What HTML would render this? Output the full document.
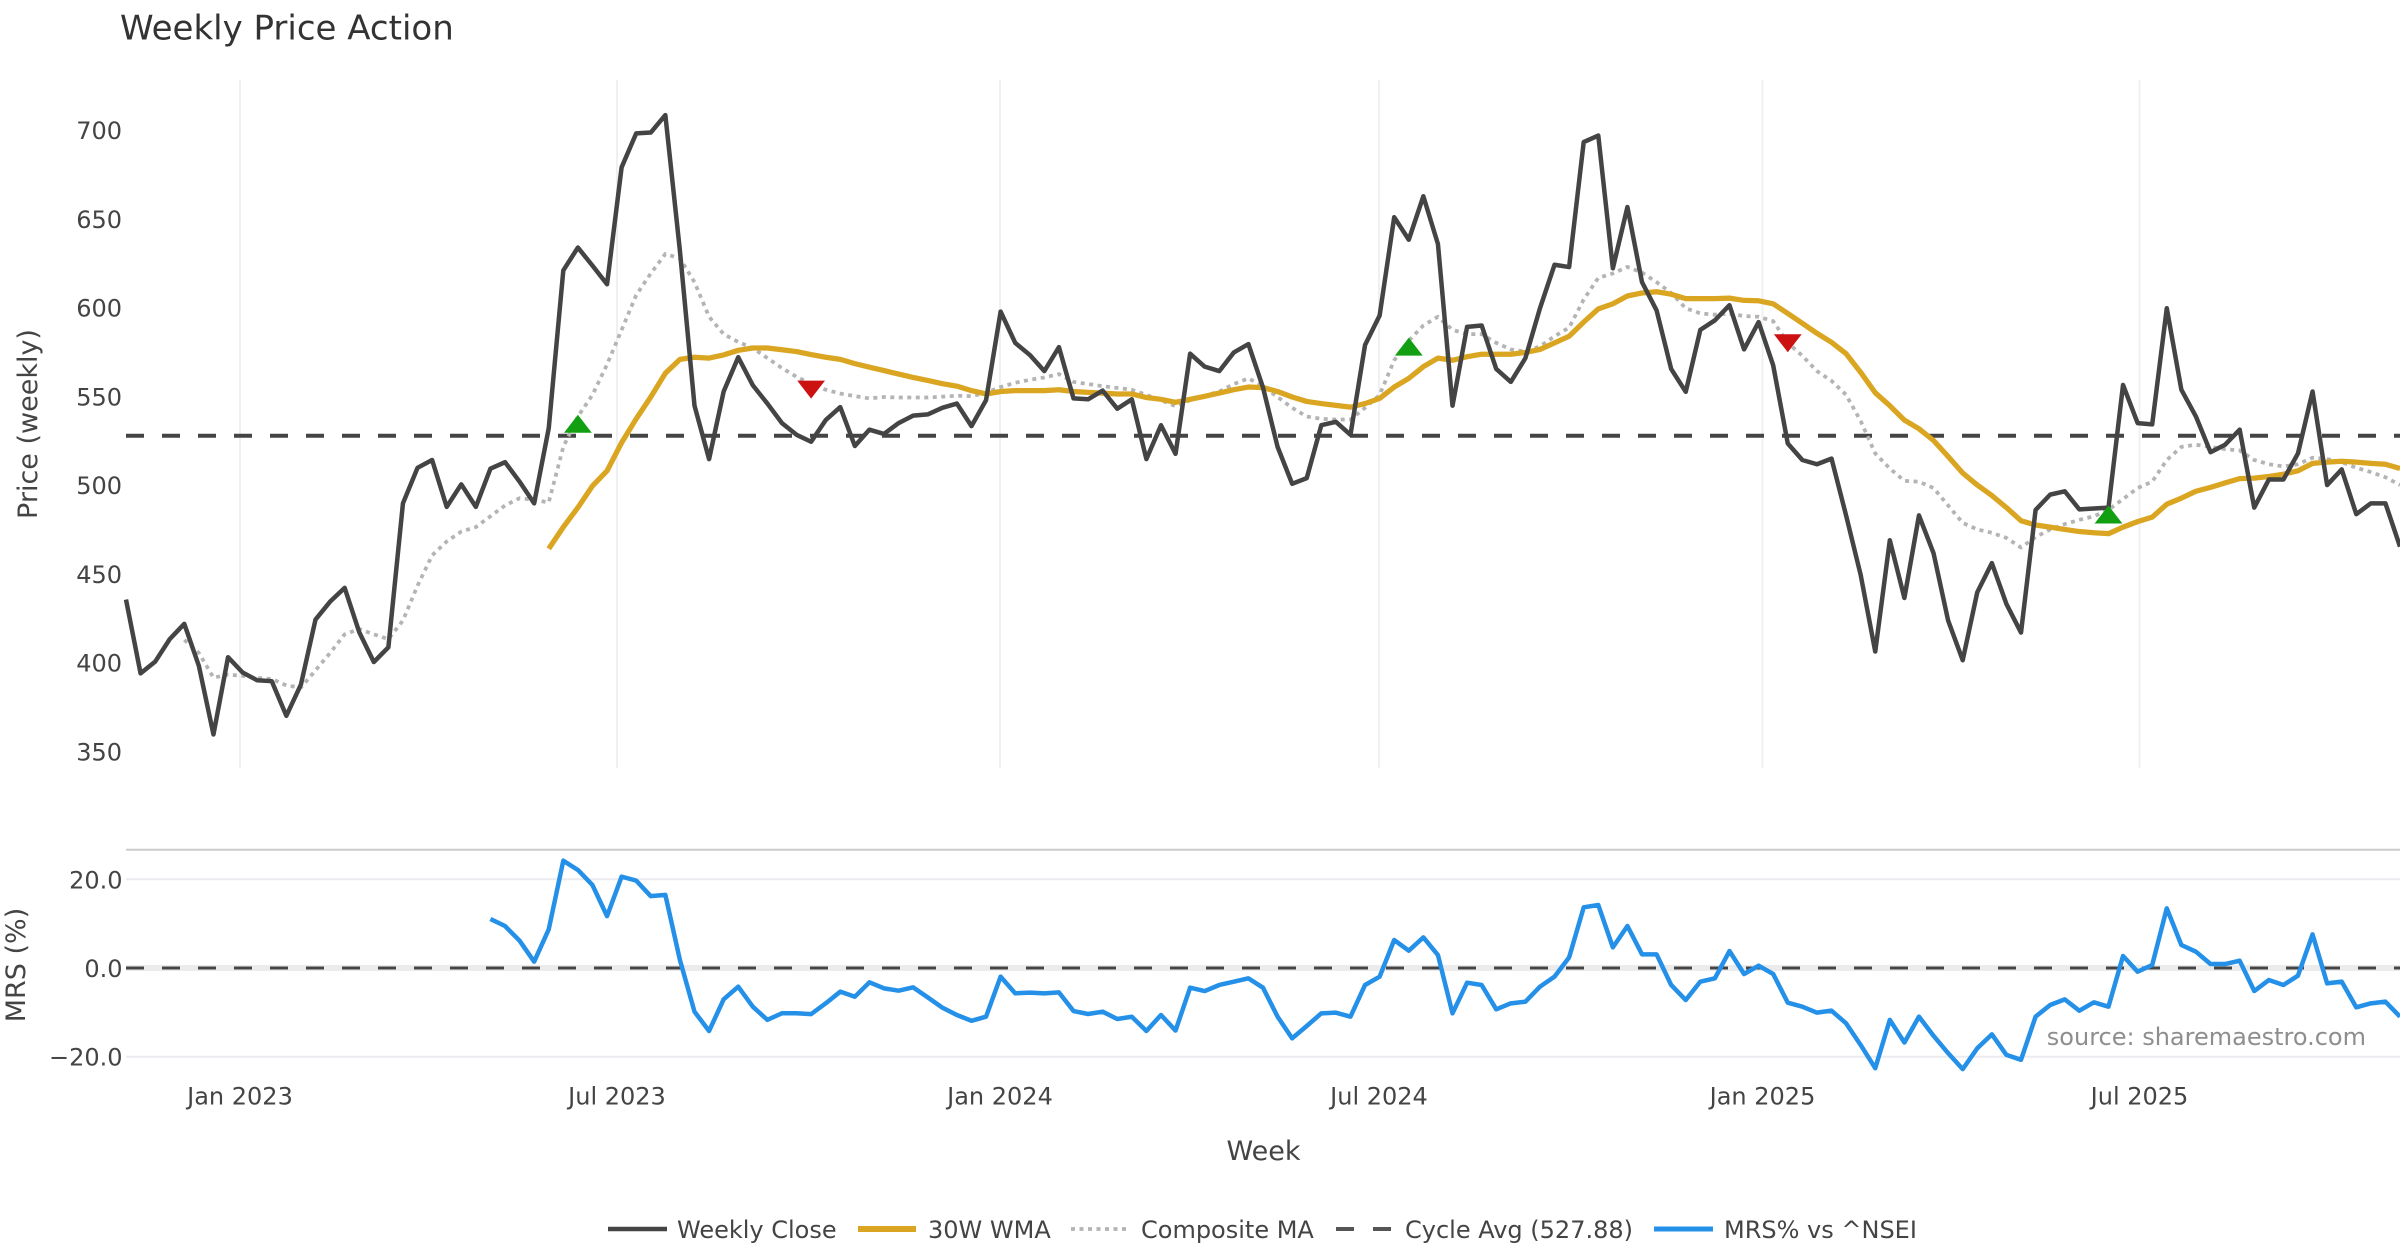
<!DOCTYPE html>
<html>
<head>
<meta charset="utf-8">
<style>
html,body{margin:0;padding:0;background:#fff;}
svg{display:block;}
text{font-family:"DejaVu Sans","Liberation Sans",sans-serif;}
</style>
</head>
<body>
<svg width="2400" height="1260" viewBox="0 0 2400 1260" xmlns="http://www.w3.org/2000/svg">
<rect x="0" y="0" width="2400" height="1260" fill="#ffffff"/>

<!-- Title -->
<text x="120" y="39.5" font-size="34" fill="#333">Weekly Price Action</text>

<!-- Top panel vertical gridlines -->
<g stroke="#eef0f3" stroke-width="2">
<line x1="240" y1="80" x2="240" y2="768"/>
<line x1="617" y1="80" x2="617" y2="768"/>
<line x1="1000" y1="80" x2="1000" y2="768"/>
<line x1="1379" y1="80" x2="1379" y2="768"/>
<line x1="1762.5" y1="80" x2="1762.5" y2="768"/>
<line x1="2139.5" y1="80" x2="2139.5" y2="768"/>
</g>

<!-- Top y tick labels -->
<g font-size="24" fill="#444" text-anchor="end">
<text x="122" y="139">700</text>
<text x="122" y="227.8">650</text>
<text x="122" y="316.5">600</text>
<text x="122" y="405.3">550</text>
<text x="122" y="494">500</text>
<text x="122" y="582.8">450</text>
<text x="122" y="671.5">400</text>
<text x="122" y="760.3">350</text>
</g>
<text transform="translate(37,424) rotate(-90)" text-anchor="middle" font-size="27" fill="#444">Price (weekly)</text>

<!-- Cycle avg dashed -->
<line x1="126" y1="435.7" x2="2400" y2="435.7" stroke="#444" stroke-width="4" stroke-dasharray="18,18"/>

<!-- Composite MA (dotted) -->
<polyline fill="none" stroke="#b4b4b4" stroke-width="3.75" stroke-dasharray="4,4.5" vector-effect="non-scaling-stroke" stroke-linejoin="round"
transform="matrix(14.577 0 0 -1.7751 126 1372.77)"
points="4,412.9 5,405.5 6,391.6 7,393.3 8,392.6 9,391.4 10,390.9 11,387.2 12,386 13,395.7 14,405.5 15,416 16,419 17,416 18,413.3 19,423.8 20,443.4 21,460.5 22,468.3 23,473.9 24,476.4 25,482.5 26,488.6 27,492.7 28,491.8 29,490.3 30,521.6 31,538.7 32,550.9 33,568 34,587.5 35,607.1 36,619.3 37,630.3 38,627.8 39,614.4 40,594.9 41,585.1 42,580.7 43,577.3 44,571.6 45,566 46,561.1 47,557 48,553.8 49,551.6 50,550.2 51,548.9 52,549.7 53,549.4 54,549.4 55,549.4 56,549.9 57,550.4 58,550.2 59,552.1 60,555.3 61,557.7 62,559.4 63,560.7 64,562.6 65,558.2 66,557 67,555.8 68,554.8 69,553.8 70,550.9 71,547.9 72,544.5 73,547.9 74,550.4 75,552.8 76,557 77,560.2 78,555.8 79,549.7 80,543.6 81,538.7 82,537.4 83,537 84,537 85,543.6 86,550.9 87,570.4 88,581.4 89,590 90,594.9 91,587.5 92,585.1 93,585.1 94,580.2 95,576.5 96,575.3 97,578.2 98,583.9 99,588.8 100,604.6 101,616.8 102,619.3 103,623 104,619.8 105,614.4 106,608.3 107,599.7 108,596.8 109,596.1 110,596.6 111,595.3 112,594.9 113,592.4 114,580.2 115,572.9 116,564.3 117,558.8 118,550.9 119,536.2 120,517.9 121,509.4 122,502.5 123,502 124,498.4 125,488.6 126,478.8 127,475.1 128,473.2 129,470.3 130,464.9 131,470.8 132,475.1 133,478.1 134,480.5 135,482.5 136,486.1 137,492.2 138,498.4 139,502 140,514.2 141,521.6 142,522.8 143,521.6 144,520.3 145,519.6 146,514.2 147,511.8 148,510.6 149,511.8 150,515.5 151,514.7 152,513 153,509.8 154,507.4 155,504.5 156,500.1"/>

<!-- 30W WMA -->
<polyline fill="none" stroke="#daa520" stroke-width="5.25" vector-effect="non-scaling-stroke" stroke-linejoin="round"
transform="matrix(14.577 0 0 -1.7751 126 1372.77)"
points="29,464.2 30,476.4 31,487.4 32,499.6 33,508.1 34,524 35,537.4 36,549.7 37,563.1 38,570.9 39,572.1 40,571.6 41,573.4 42,576 43,577.3 44,577.3 45,576.3 46,575.3 47,573.6 48,572.1 49,570.9 50,568.5 51,566.5 52,564.6 53,562.6 54,560.7 55,559 56,557.2 57,555.8 58,553.3 59,551.4 60,552.8 61,553.3 62,553.3 63,553.3 64,553.8 65,552.8 66,552.3 67,551.9 68,551.4 69,551.4 70,549.4 71,548.4 72,546.7 73,548.4 74,550.1 75,551.9 76,553.8 77,555.3 78,555 79,552.8 80,549.7 81,547.2 82,546 83,545 84,544 85,546 86,548.9 87,555.3 88,560.2 89,566.8 90,571.6 91,570.4 92,572.4 93,573.8 94,573.8 95,573.8 96,574.8 97,576.5 98,580.2 99,583.9 100,591.9 101,599.3 102,602.2 103,606.6 104,608.3 105,609 106,607.6 107,605.1 108,605.1 109,605.1 110,605.4 111,604.1 112,603.9 113,602.2 114,596.8 115,591.2 116,585.6 117,580.5 118,574.1 119,563.6 120,552.1 121,544.8 122,536.7 123,531.8 124,525.2 125,516.2 126,506.9 127,500.1 128,494.2 129,487.4 130,480 131,477.6 132,476.4 133,475.1 134,473.9 135,473.2 136,472.7 137,476.4 138,479.5 139,482 140,489.3 141,492.7 142,496.6 143,498.8 144,501.3 145,503.7 146,504 147,504.9 148,506.2 149,508.1 150,512.3 151,513 152,513.5 153,513 154,512.3 155,511.8 156,509.4"/>

<!-- Weekly Close -->
<polyline fill="none" stroke="#444" stroke-width="4.5" vector-effect="non-scaling-stroke" stroke-linejoin="round"
transform="matrix(14.577 0 0 -1.7751 126 1372.77)"
points="0,435.6 1,394 2,400.6 3,413.3 4,421.9 5,398.2 6,359.6 7,403.1 8,394.5 9,390.1 10,389.6 11,370.1 12,387.7 13,424.3 14,434.4 15,442.2 16,417.2 17,400.4 18,408.7 19,489.8 20,509.8 21,514.2 22,487.8 23,500.5 24,487.8 25,509.3 26,513 27,502 28,489.8 29,532.1 30,621 31,633.9 32,623.7 33,613.2 34,679.1 35,698.2 36,698.7 37,708.5 38,632 39,544.8 40,514.7 41,552.8 42,572.1 43,556.3 44,546 45,535 46,528.4 47,524.5 48,536.7 49,544 50,522.1 51,531.3 52,528.9 53,535 54,539.2 55,539.9 56,543.6 57,546 58,533.3 59,547.9 60,597.8 61,580.2 62,573.4 63,564.3 64,577.8 65,548.9 66,548.4 67,553.3 68,543.1 69,548.4 70,514.7 71,533.8 72,517.7 73,574.1 74,566.8 75,564.3 76,574.8 77,579.5 78,555 79,521.6 80,500.8 81,504 82,533.8 83,535.7 84,528.4 85,579 86,595.6 87,651 88,638.3 89,662.8 90,635.9 91,544.8 92,589.2 93,590 94,565.5 95,558.2 96,571.6 97,599.7 98,624.2 99,622.9 100,693.3 101,697 102,622.2 103,656.7 104,614.4 105,598.5 106,565.5 107,552.6 108,587.5 109,592.9 110,601.4 111,576.5 112,591.9 113,567.5 114,523.5 115,514.2 116,511.8 117,515 118,483 119,449.5 120,406.3 121,469 122,436.5 123,483 124,461.7 125,423.8 126,401.4 127,439.7 128,456.1 129,433.1 130,417 131,486.1 132,494.7 133,496.6 134,486.4 135,486.9 136,487.4 137,556.5 138,535 139,534.3 140,599.7 141,553.8 142,538.7 143,518.6 144,522.8 145,531.3 146,487.4 147,503.2 148,503.2 149,517.9 150,552.8 151,500.1 152,508.9 153,483.7 154,489.8 155,489.8 156,465.4"/>

<!-- Signal markers -->
<g fill="#12a012">
<polygon points="564,432.8 591.8,432.8 577.9,414.8"/>
<polygon points="1394.9,355.6 1422.7,355.6 1408.8,337.6"/>
<polygon points="2094.6,523.5 2122.4,523.5 2108.5,505.5"/>
</g>
<g fill="#cc1111">
<polygon points="797.2,380.6 825,380.6 811.1,398.6"/>
<polygon points="1773.9,334.3 1801.7,334.3 1787.8,352.3"/>
</g>

<!-- Lower panel -->
<line x1="126" y1="849.7" x2="2400" y2="849.7" stroke="#cccccc" stroke-width="2"/>
<g stroke="#ececf0" stroke-width="2">
<line x1="126" y1="879.3" x2="2400" y2="879.3"/>
<line x1="126" y1="1056.7" x2="2400" y2="1056.7"/>
</g>
<line x1="126" y1="968" x2="2400" y2="968" stroke="#ebebeb" stroke-width="6"/>
<line x1="126" y1="968" x2="2400" y2="968" stroke="#444" stroke-width="3" stroke-dasharray="18,18"/>

<g font-size="24" fill="#444" text-anchor="end">
<text x="122.5" y="888.3">20.0</text>
<text x="122.5" y="977">0.0</text>
<text x="122.5" y="1065.7">−20.0</text>
</g>
<text transform="translate(25,965) rotate(-90)" text-anchor="middle" font-size="27" fill="#444">MRS (%)</text>

<!-- MRS line -->
<polyline fill="none" stroke="#2490e8" stroke-width="4.5" vector-effect="non-scaling-stroke" stroke-linejoin="round"
transform="matrix(14.577 0 0 -4.435 126 968)"
points="25,11.05 26,9.47 27,6.16 28,1.43 29,8.72 30,24.2 31,22.1 32,18.7 33,11.7 34,20.6 35,19.7 36,16.2 37,16.5 38,1.8 39,-9.85 40,-14.2 41,-7.07 42,-4.21 43,-8.72 44,-11.7 45,-10.2 46,-10.2 47,-10.4 48,-7.97 49,-5.34 50,-6.47 51,-3.23 52,-4.59 53,-5.11 54,-4.36 55,-6.62 56,-8.94 57,-10.6 58,-11.9 59,-10.97 60,-1.95 61,-5.71 62,-5.56 63,-5.71 64,-5.49 65,-9.7 66,-10.37 67,-9.85 68,-11.5 69,-11 70,-14.2 71,-10.6 72,-14.1 73,-4.44 74,-5.2 75,-3.83 76,-3.08 77,-2.33 78,-4.44 79,-10.97 80,-15.86 81,-13.08 82,-10.22 83,-10.07 84,-10.97 85,-3.83 86,-1.95 87,6.31 88,3.91 89,6.91 90,2.93 91,-10.22 92,-3.31 93,-3.83 94,-9.32 95,-7.97 96,-7.59 97,-4.21 98,-1.95 99,2.4 100,13.68 101,14.2 102,4.66 103,9.47 104,3.08 105,3.08 106,-3.83 107,-7.22 108,-3.08 109,-2.33 110,3.83 111,-1.35 112,0.53 113,-1.35 114,-7.82 115,-8.72 116,-10.07 117,-9.62 118,-12.48 119,-17.36 120,-22.6 121,-11.7 122,-16.8 123,-10.97 124,-15.3 125,-19.2 126,-22.8 127,-18.1 128,-14.96 129,-19.6 130,-20.7 131,-10.97 132,-8.34 133,-7.07 134,-9.62 135,-7.74 136,-8.72 137,2.71 138,-0.83 139,0.68 140,13.45 141,5.19 142,3.68 143,0.9 144,0.9 145,1.65 146,-5.19 147,-2.71 148,-3.83 149,-1.73 150,7.59 151,-3.46 152,-3.08 153,-8.87 154,-7.97 155,-7.59 156,-10.97"/>

<text x="2366" y="1045" text-anchor="end" font-size="24" fill="#8e8e8e">source: sharemaestro.com</text>

<!-- X tick labels -->
<g font-size="24" fill="#444" text-anchor="middle">
<text x="240" y="1104.5">Jan 2023</text>
<text x="617" y="1104.5">Jul 2023</text>
<text x="1000" y="1104.5">Jan 2024</text>
<text x="1379" y="1104.5">Jul 2024</text>
<text x="1762.5" y="1104.5">Jan 2025</text>
<text x="2139.5" y="1104.5">Jul 2025</text>
</g>
<text x="1263.5" y="1160" text-anchor="middle" font-size="27" fill="#444">Week</text>

<!-- Legend -->
<g font-size="24" fill="#444">
<line x1="608" y1="1229" x2="667" y2="1229" stroke="#444" stroke-width="4.5"/>
<text x="677" y="1238">Weekly Close</text>
<line x1="858" y1="1229" x2="916" y2="1229" stroke="#daa520" stroke-width="6"/>
<text x="928" y="1238">30W WMA</text>
<line x1="1071" y1="1229" x2="1127" y2="1229" stroke="#b4b4b4" stroke-width="3.75" stroke-dasharray="4,4.5"/>
<text x="1141" y="1238">Composite MA</text>
<line x1="1336" y1="1229" x2="1354" y2="1229" stroke="#555" stroke-width="4"/>
<line x1="1373" y1="1229" x2="1391" y2="1229" stroke="#555" stroke-width="4"/>
<text x="1405" y="1238">Cycle Avg (527.88)</text>
<line x1="1654" y1="1229" x2="1713" y2="1229" stroke="#2490e8" stroke-width="5"/>
<text x="1724" y="1238">MRS% vs ^NSEI</text>
</g>
</svg>
</body>
</html>
